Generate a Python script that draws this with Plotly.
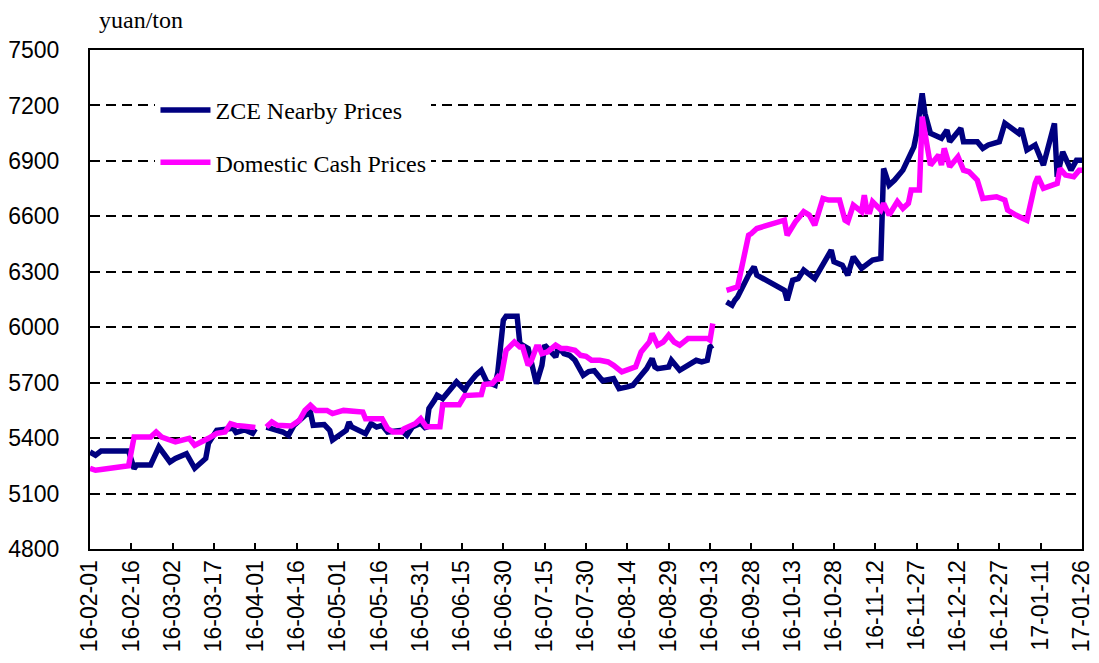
import plotly.graph_objects as go

# ZCE nearby futures prices (yuan/ton); None marks a holiday break in the data
zce_dates = [
    "2016-02-01", "2016-02-03", "2016-02-05", "2016-02-15", "2016-02-17", "2016-02-18", "2016-02-23",
    "2016-02-26", "2016-03-01", "2016-03-03", "2016-03-07", "2016-03-10", "2016-03-14", "2016-03-15",
    "2016-03-18", "2016-03-24", "2016-03-25", "2016-03-28", "2016-03-31", "2016-04-01", "2016-04-04",
    "2016-04-05", "2016-04-07", "2016-04-11", "2016-04-13", "2016-04-15", "2016-04-19", "2016-04-21",
    "2016-04-22", "2016-04-26", "2016-04-28", "2016-04-29", "2016-05-04", "2016-05-05", "2016-05-06",
    "2016-05-11", "2016-05-13", "2016-05-15", "2016-05-17", "2016-05-19", "2016-05-24", "2016-05-26",
    "2016-05-28", "2016-05-31", "2016-06-02", "2016-06-03", "2016-06-05", "2016-06-06", "2016-06-08",
    "2016-06-10", "2016-06-13", "2016-06-16", "2016-06-17", "2016-06-20", "2016-06-22", "2016-06-24",
    "2016-06-27", "2016-06-28", "2016-06-30", "2016-07-01", "2016-07-05", "2016-07-06", "2016-07-09",
    "2016-07-12", "2016-07-14", "2016-07-15", "2016-07-18", "2016-07-19", "2016-07-20", "2016-07-22",
    "2016-07-24", "2016-07-26", "2016-07-29", "2016-07-31", "2016-08-02", "2016-08-05", "2016-08-09",
    "2016-08-11", "2016-08-14", "2016-08-16", "2016-08-19", "2016-08-21", "2016-08-23", "2016-08-24",
    "2016-08-25", "2016-08-29", "2016-08-30", "2016-09-02", "2016-09-06", "2016-09-08", "2016-09-10",
    "2016-09-12", "2016-09-13", "2016-09-14", "2016-09-15", "2016-09-19", "2016-09-21", "2016-09-22",
    "2016-09-23", "2016-09-27", "2016-09-29", "2016-09-30", "2016-10-10", "2016-10-11", "2016-10-13",
    "2016-10-15", "2016-10-17", "2016-10-21", "2016-10-24", "2016-10-27", "2016-10-28", "2016-10-31",
    "2016-11-02", "2016-11-04", "2016-11-07", "2016-11-09", "2016-11-11", "2016-11-14", "2016-11-15",
    "2016-11-17", "2016-11-19", "2016-11-22", "2016-11-26", "2016-11-27", "2016-11-29", "2016-11-30",
    "2016-12-02", "2016-12-06", "2016-12-08", "2016-12-09", "2016-12-13", "2016-12-14", "2016-12-19",
    "2016-12-21", "2016-12-23", "2016-12-27", "2016-12-29", "2017-01-03", "2017-01-04", "2017-01-06",
    "2017-01-09", "2017-01-12", "2017-01-16", "2017-01-17", "2017-01-19", "2017-01-22", "2017-01-24",
    "2017-01-26",
]
zce_prices = [
    5325, 5308, 5330, 5330, 5235, 5255, 5255,
    5352, 5271, 5290, 5316, 5237, 5290, 5372,
    5442, 5453, 5430, 5445, 5426, 5450, None,
    5460, 5453, 5433, 5415, 5469, 5523, 5540,
    5469, 5473, 5442, 5390, 5442, 5487, 5460,
    5424, 5478, 5460, 5469, 5433, 5442, 5415,
    5460, 5480, 5450, 5560, 5605, 5632, 5614,
    5650, 5704, 5659, 5686, 5740, 5767, 5704,
    5686, 5758, 6038, 6060, 6060, 5912, 5885,
    5695, 5794, 5903, 5857, 5839, 5893, 5857,
    5848, 5821, 5740, 5760, 5765, 5710, 5722,
    5668, 5677, 5686, 5740, 5776, 5830, 5785,
    5776, 5785, 5821, 5767, 5803, 5821, 5812,
    5821, 5893, 5903, None, 6137, 6119, 6146,
    6164, 6282, 6327, 6282, 6200, 6146, 6254,
    6263, 6309, 6263, 6345, 6417, 6354, 6336,
    6282, 6381, 6318, 6345, 6363, 6372, 6859,
    6769, 6796, 6850, 6976, 7049, 7266, 7157,
    7049, 7022, 7067, 7004, 7076, 7004, 7004,
    6968, 6986, 7004, 7103, 7049, 7076, 6959,
    6986, 6877, 7103, 6814, 6949, 6850, 6904,
    6904,
]

# Domestic cash prices (yuan/ton)
cash_dates = [
    "2016-02-01", "2016-02-03", "2016-02-05", "2016-02-15", "2016-02-17", "2016-02-23", "2016-02-25",
    "2016-02-27", "2016-03-03", "2016-03-06", "2016-03-08", "2016-03-10", "2016-03-13", "2016-03-15",
    "2016-03-18", "2016-03-21", "2016-03-23", "2016-03-25", "2016-03-28", "2016-04-01", "2016-04-04",
    "2016-04-05", "2016-04-07", "2016-04-09", "2016-04-14", "2016-04-17", "2016-04-19", "2016-04-21",
    "2016-04-23", "2016-04-27", "2016-04-29", "2016-05-03", "2016-05-07", "2016-05-10", "2016-05-11",
    "2016-05-17", "2016-05-19", "2016-05-21", "2016-05-24", "2016-05-25", "2016-05-29", "2016-05-31",
    "2016-06-02", "2016-06-07", "2016-06-08", "2016-06-14", "2016-06-16", "2016-06-22", "2016-06-23",
    "2016-06-26", "2016-06-28", "2016-06-29", "2016-07-01", "2016-07-04", "2016-07-06", "2016-07-07",
    "2016-07-09", "2016-07-10", "2016-07-12", "2016-07-13", "2016-07-14", "2016-07-16", "2016-07-19",
    "2016-07-21", "2016-07-23", "2016-07-26", "2016-07-28", "2016-07-30", "2016-08-01", "2016-08-04",
    "2016-08-07", "2016-08-09", "2016-08-12", "2016-08-16", "2016-08-17", "2016-08-19", "2016-08-22",
    "2016-08-23", "2016-08-25", "2016-08-27", "2016-08-29", "2016-08-31", "2016-09-02", "2016-09-05",
    "2016-09-12", "2016-09-13", "2016-09-14", "2016-09-15", "2016-09-19", "2016-09-23", "2016-09-27",
    "2016-09-28", "2016-09-30", "2016-10-10", "2016-10-11", "2016-10-13", "2016-10-14", "2016-10-17",
    "2016-10-19", "2016-10-21", "2016-10-24", "2016-10-26", "2016-10-30", "2016-11-01", "2016-11-02",
    "2016-11-04", "2016-11-07", "2016-11-08", "2016-11-09", "2016-11-10", "2016-11-11", "2016-11-14",
    "2016-11-15", "2016-11-17", "2016-11-20", "2016-11-22", "2016-11-24", "2016-11-25", "2016-11-28",
    "2016-11-29", "2016-12-02", "2016-12-05", "2016-12-06", "2016-12-07", "2016-12-09", "2016-12-12",
    "2016-12-14", "2016-12-16", "2016-12-19", "2016-12-21", "2016-12-26", "2016-12-29", "2016-12-30",
    "2017-01-02", "2017-01-06", "2017-01-09", "2017-01-10", "2017-01-12", "2017-01-17", "2017-01-18",
    "2017-01-20", "2017-01-23", "2017-01-25", "2017-01-26",
]
cash_prices = [
    5237, 5226, 5230, 5250, 5406, 5406, 5433,
    5406, 5379, 5388, 5399, 5361, 5379, 5399,
    5426, 5433, 5478, 5469, 5464, 5457, None,
    5460, 5487, 5469, 5466, 5496, 5550, 5578,
    5550, 5550, 5533, 5550, 5545, 5541, 5505,
    5505, 5451, 5433, 5433, 5451, 5478, 5505,
    5462, 5462, 5580, 5580, 5630, 5635, 5690,
    5695, 5731, 5713, 5875, 5920, 5893, 5893,
    5794, 5812, 5893, 5893, 5857, 5866, 5903,
    5885, 5885, 5875, 5848, 5843, 5821, 5821,
    5812, 5794, 5758, 5776, 5785, 5866, 5920,
    5966, 5903, 5920, 5957, 5920, 5903, 5939,
    5939, 5930, 6020, None, 6200, 6218, 6498,
    6507, 6534, 6579, 6498, 6552, 6570, 6625,
    6607, 6552, 6697, 6688, 6688, 6579, 6570,
    6661, 6625, 6715, 6625, 6625, 6679, 6634,
    6670, 6607, 6680, 6643, 6670, 6742, 6742,
    7139, 6877, 6932, 6877, 6968, 6868, 6922,
    6850, 6841, 6796, 6697, 6706, 6688, 6634,
    6607, 6579, 6778, 6814, 6751, 6778, 6859,
    6823, 6814, 6850, 6850,
]

series_names = ["ZCE Nearby Prices", "Domestic Cash Prices"]
series_colors = ["#000080", "#FF00FF"]
y_ticks = [4800, 5100, 5400, 5700, 6000, 6300, 6600, 6900, 7200, 7500]
x_start, x_end = "2016-02-01", "2017-01-26"
unit_label = "yuan/ton"

fig = go.Figure()
for name, color, xs, ys in [
    (series_names[0], series_colors[0], zce_dates, zce_prices),
    (series_names[1], series_colors[1], cash_dates, cash_prices),
]:
    fig.add_trace(go.Scatter(
        x=xs, y=ys, mode="lines", name=name, legendgroup=name,
        line=dict(color=color, width=5.5), connectgaps=False,
    ))

tick_font = dict(family="Liberation Sans, Arial, sans-serif", size=23, color="black")
serif_font = dict(family="Liberation Serif, Times New Roman, serif", size=24, color="black")

fig.update_layout(
    width=1099, height=663,
    margin=dict(l=82, r=25, t=42, b=122),
    paper_bgcolor="white", plot_bgcolor="white",
    showlegend=True,
    legend=dict(
        x=0.066, y=0.924, xanchor="left", yanchor="top",
        bgcolor="white", font=serif_font, tracegroupgap=18,
        itemwidth=50,
    ),
    xaxis=dict(
        type="date", range=[x_start, x_end], automargin=False,
        tick0=x_start, dtick=15 * 86400000, tickformat="%y-%m-%d",
        tickangle=-90, ticks="inside", ticklen=6, tickwidth=2, tickcolor="black",
        showline=True, linecolor="black", linewidth=2, mirror=True,
        showgrid=False, zeroline=False, tickfont=tick_font,
    ),
    yaxis=dict(
        range=[y_ticks[0], y_ticks[-1]], tickvals=y_ticks, automargin=False,
        ticks="", ticklabelstandoff=24,
        showline=True, linecolor="black", linewidth=2, mirror=True,
        showgrid=True, gridcolor="black", gridwidth=2, griddash="10px,6px",
        zeroline=False, tickfont=tick_font,
    ),
    annotations=[dict(
        text=unit_label, xref="paper", yref="paper", x=0.051, y=1.09,
        xanchor="center", yanchor="top", showarrow=False, font=serif_font,
    )],
)

fig.write_html("out.html")
